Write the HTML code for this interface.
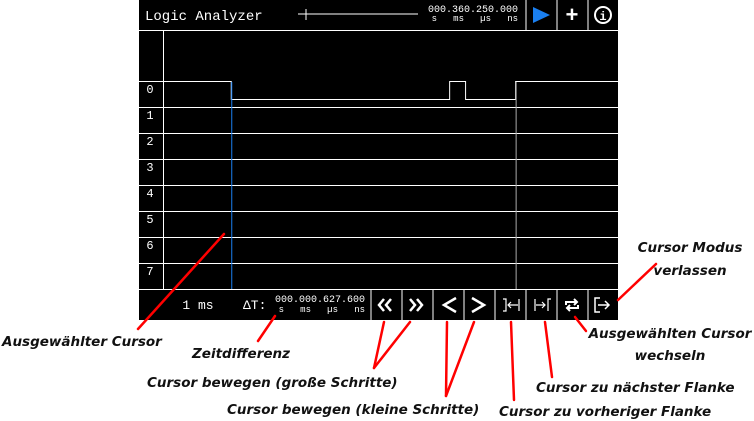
<!DOCTYPE html>
<html><head><meta charset="utf-8">
<style>
html,body{margin:0;padding:0;background:#fff;width:754px;height:421px;overflow:hidden}
svg{display:block}
text{white-space:pre}
.mono{font-family:"Liberation Mono","DejaVu Sans Mono",monospace;fill:#fff}
.ann{font-family:"DejaVu Sans","Liberation Sans",sans-serif;font-weight:bold;font-style:italic;font-size:13.5px;fill:#111}
</style></head>
<body>
<svg id="chart" width="754" height="421" viewBox="0 0 754 421" xmlns="http://www.w3.org/2000/svg">
<rect x="139" y="0" width="479" height="320" fill="#000"/>
<g id="header">
 <text class="mono" x="145" y="20" font-size="14">Logic Analyzer</text>
 <line x1="298" y1="14" x2="418" y2="14" stroke="#fff" stroke-width="1"/>
 <line x1="306" y1="9" x2="306" y2="20" stroke="#fff" stroke-width="1"/>
 <text class="mono" x="518" y="12" font-size="10" text-anchor="end">000.360.250.000</text>
 <text class="mono" x="518" y="21" font-size="9" text-anchor="end">s   ms   µs   ns</text>
 <line x1="526" y1="0" x2="526" y2="30" stroke="#fff"/>
 <line x1="557" y1="0" x2="557" y2="30" stroke="#fff"/>
 <line x1="588" y1="0" x2="588" y2="30" stroke="#fff"/>
 <polygon points="533,7 550,15 533,23" fill="#1a7ff0"/>
 <text class="mono" x="572" y="22" font-size="22" text-anchor="middle" font-weight="bold">+</text>
 <g>
  <circle cx="603" cy="15" r="8" fill="none" stroke="#fff" stroke-width="2"/>
  <text class="mono" x="603" y="20" font-size="12" font-weight="bold" text-anchor="middle">i</text>
 </g>
 <line x1="139" y1="30.5" x2="618" y2="30.5" stroke="#fff"/>
</g>
<g id="plot"></g>
<g id="footer">
 <line x1="139" y1="289.5" x2="618" y2="289.5" stroke="#fff"/>
 <text class="mono" x="198" y="309" font-size="13" text-anchor="middle">1 ms</text>
 <text class="mono" x="243" y="309" font-size="13">ΔT:</text>
 <text class="mono" x="365" y="302" font-size="10" text-anchor="end">000.000.627.600</text>
 <text class="mono" x="365" y="312" font-size="9" text-anchor="end">s   ms   µs   ns</text>
 <g stroke="#fff">
  <line x1="371" y1="290" x2="371" y2="320"/><line x1="402" y1="290" x2="402" y2="320"/>
  <line x1="433" y1="290" x2="433" y2="320"/><line x1="464" y1="290" x2="464" y2="320"/>
  <line x1="495" y1="290" x2="495" y2="320"/><line x1="526" y1="290" x2="526" y2="320"/>
  <line x1="557" y1="290" x2="557" y2="320"/><line x1="588" y1="290" x2="588" y2="320"/>
 </g>
 <g fill="none" stroke="#fff" stroke-width="2.5">
  <path d="M384,299 l-5,6 l5,6 M391,299 l-5,6 l5,6"/>
  <path d="M410,299 l5,6 l-5,6 M417,299 l5,6 l-5,6"/>
  <path d="M456,298 l-12,7 l12,7"/>
  <path d="M472,298 l12,7 l-12,7"/>
 </g>
 <g fill="none" stroke="#fff" stroke-width="1.2">
  <path d="M503,299 h3 v12 h-3 M509,305 h9 M511,302 l-3,3 l3,3 M519,299 v12"/>
  <path d="M535,299 v12 M536,305 h9 M542,302 l3,3 l-3,3 M548,311 v-12 h3"/>
  <path stroke-width="1.5" d="M600,298 h-5 v14 h5 M598,305 h11 M605,301 l4,4 l-4,4"/>
 </g>
 <g fill="none" stroke="#fff" stroke-width="2">
  <path d="M566,305 v-3 h11 M574,299 l3,3 l-3,3"/>
  <path d="M578,305 v3 h-11 M570,311 l-3,-3 l3,-3"/>
 </g>
</g>
<g id="annotations">
 <g stroke="#f00" stroke-width="2.5" stroke-linecap="round" fill="none">
  <line x1="138" y1="329" x2="224" y2="234"/>
  <line x1="258" y1="341" x2="275" y2="316"/>
  <line x1="374" y1="368" x2="384" y2="322"/>
  <line x1="374" y1="368" x2="410" y2="322"/>
  <line x1="446" y1="396" x2="447" y2="322"/>
  <line x1="446" y1="396" x2="474" y2="322"/>
  <line x1="514" y1="400" x2="511" y2="322"/>
  <line x1="552" y1="377" x2="545" y2="322"/>
  <line x1="586" y1="331" x2="575" y2="317"/>
  <line x1="656" y1="264" x2="618" y2="300"/>
 </g>
 <text class="ann" x="2" y="346">Ausgewählter Cursor</text>
 <text class="ann" x="192" y="358">Zeitdifferenz</text>
 <text class="ann" x="147" y="387">Cursor bewegen (große Schritte)</text>
 <text class="ann" x="227" y="414">Cursor bewegen (kleine Schritte)</text>
 <text class="ann" x="499" y="416">Cursor zu vorheriger Flanke</text>
 <text class="ann" x="536" y="392">Cursor zu nächster Flanke</text>
 <text class="ann" x="670" y="338" text-anchor="middle">Ausgewählten Cursor</text>
 <text class="ann" x="670" y="360" text-anchor="middle">wechseln</text>
 <text class="ann" x="690" y="252" text-anchor="middle">Cursor Modus</text>
 <text class="ann" x="690" y="275" text-anchor="middle">verlassen</text>
</g>
<script>
// channel labels
const channels = ["0","1","2","3","4","5","6","7"];
// signal of channel 0: edge times (time units 0..100) and levels after each edge
const edgeTimes = [0, 15, 63, 66.5, 77.5];
const levels = [1, 0, 1, 0, 1];
// cursor positions (time units)
const cursorSelected = [15];
const cursorOther = [77.5];

const NS = "http://www.w3.org/2000/svg";
const plot = document.getElementById("plot");
const x0 = 163, x1 = 618, rowTop = 81, rowH = 26;
const xScale = t => x0 + (t / 100) * (x1 - x0);
const rowY = i => rowTop + i * rowH;
function mk(tag, attrs){const e=document.createElementNS(NS,tag);for(const k in attrs)e.setAttribute(k,attrs[k]);plot.appendChild(e);return e;}

mk("line",{x1:163.5,y1:31,x2:163.5,y2:289,stroke:"#fff"});
channels.forEach((c,i)=>{
  const y = rowY(i);
  const ln = mk("line",{x1:139,y1:y+0.5,x2:(i===0?163:618),y2:y+0.5,stroke:"#fff"});
  
  
  const t = mk("text",{x:150,y:y+12,"class":"mono","font-size":"12","text-anchor":"middle"});
  t.textContent = c;
  
  
});
// signal trace
const hiY = rowY(0)+0.5, loY = rowY(0)+18.5;
let d = "";
edgeTimes.forEach((t,i)=>{
  const y = levels[i] ? hiY : loY;
  const xs = xScale(t);
  const xe = i+1 < edgeTimes.length ? xScale(edgeTimes[i+1]) : x1;
  d += (i===0 ? "M"+xs+","+y : " L"+xs+","+y) + " L"+xe+","+y;
});
const p = mk("path",{d:d,fill:"none",stroke:"#fff","stroke-width":"1"});


// cursors
cursorSelected.forEach(t=>{
  const l = mk("line",{x1:xScale(t)+0.5,y1:82,x2:xScale(t)+0.5,y2:289,stroke:"#1a7ff0"});
  
  
});
cursorOther.forEach(t=>{
  const l = mk("line",{x1:xScale(t)+0.5,y1:82,x2:xScale(t)+0.5,y2:289,stroke:"#aaa"});
  
  
});
</script>
</svg>
</body></html>
